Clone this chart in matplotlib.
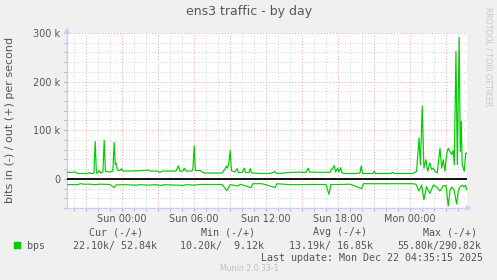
import numpy as np
import matplotlib.pyplot as plt
from matplotlib.patches import Rectangle

# hours relative to Sun 00:00, values in kbit/s
out_hours = [-4.61, -4.11, -3.94, -3.69, -2.86, -2.73, -2.61, -2.36, -2.25, -2.15,
             -2.03, -1.92, -1.78, -1.61, -1.50, -1.40, -1.19, -1.03, -0.78, -0.67,
             -0.58, -0.53, -0.40, -0.19, -0.05, 0.06, 0.64, 1.48, 2.14, 2.31,
             2.89, 3.14, 3.39, 3.98, 4.48, 4.67, 4.81, 5.06, 5.17, 5.31,
             5.81, 5.89, 6.00, 6.10, 6.48, 6.81, 7.73, 8.31, 8.56, 8.67,
             8.77, 8.89, 9.00, 9.10, 9.39, 9.58, 9.68, 9.98, 10.17, 10.27,
             10.56, 10.67, 10.77, 11.64, 12.31, 12.73, 12.89, 13.98, 14.81, 15.31,
             15.50, 15.60, 16.48, 17.31, 17.67, 17.78, 17.95, 18.06, 18.20, 18.31,
             18.56, 19.39, 19.81, 19.92, 20.02, 20.89, 21.00, 21.10, 22.39, 22.53,
             22.64, 24.23, 24.53, 24.73, 24.85, 25.00, 25.14, 25.31, 25.45, 25.64,
             25.78, 25.92, 26.06, 26.25, 26.48, 26.62, 26.75, 26.89, 27.03, 27.17,
             27.31, 27.45, 27.58, 27.67, 27.81, 27.92, 28.08, 28.17, 28.25, 28.33,
             28.42, 28.50, 28.62, 28.68]
out_kbps = [13.5, 13.5, 14.5, 11, 11, 13, 11, 11.5, 77, 12,
            12, 17, 12, 14, 79, 15, 15, 14, 16, 75,
            30, 33, 18, 17, 21, 16, 16, 16.5, 18, 16,
            16, 13.5, 16, 16, 16, 27, 16, 16, 22, 16,
            16, 20, 68, 17, 17, 12, 12, 12, 20, 26,
            22, 33, 58, 17, 14, 21, 13, 13, 22, 13,
            13, 21, 12, 11, 11, 15, 11, 13, 14, 13,
            22, 14, 13.5, 13.5, 27, 14, 22, 14, 23, 12,
            11, 11, 12, 27, 11, 11, 15.5, 11, 11, 13.5,
            11, 11, 15.5, 84, 29, 150, 22, 39, 15.5, 33,
            19, 22, 15.5, 12, 63, 22, 39, 15.5, 50, 63,
            56, 50, 58, 29, 262, 29, 290.82, 56, 118, 29,
            22, 15.5, 53, 52.84]

in_hours = [-4.61, -3.69, -3.47, -3.28, -2.69, -2.28, -1.86, -1.03, -0.67, -0.53,
            0.23, 1.20, 1.48, 2.14, 2.73, 3.23, 3.56, 5.14, 5.31, 6.00,
            6.48, 8.31, 8.73, 8.98, 9.67, 9.81, 10.73, 10.89, 11.64, 12.75,
            12.89, 13.98, 14.89, 15.64, 16.98, 17.23, 17.39, 18.14, 18.98, 19.95,
            20.10, 21.48, 24.14, 24.48, 24.73, 24.95, 25.14, 25.35, 25.64, 25.92,
            26.20, 26.48, 26.75, 26.98, 27.17, 27.31, 27.45, 27.64, 27.87, 28.00,
            28.14, 28.33, 28.48, 28.62, 28.68]
in_kbps = [12, 12, 9.7, 11, 11, 12, 11, 11.5, 18, 12.5,
           12, 13, 12, 13, 12, 13.5, 12, 13.5, 12, 13,
           11.6, 11.6, 24, 12, 14.7, 11, 18, 10, 10, 18,
           10, 12, 12, 11.6, 11.6, 32, 11.6, 11.6, 11, 20,
           10, 10, 10, 11, 25, 13, 43, 16, 30, 13,
           17, 25, 14, 14, 55.8, 25, 17, 22, 52, 25,
           17, 13, 17, 13, 22.1]

tick_hours = [0, 6, 12, 18, 24]
tick_labels = ["Sun 00:00", "Sun 06:00", "Sun 12:00", "Sun 18:00", "Mon 00:00"]
ytick_vals = [0, 100000, 200000, 300000]
ytick_labels = ["0", "100 k", "200 k", "300 k"]

columns = ["Cur", "Min", "Avg", "Max"]
in_stats = ["22.10k", "10.20k", "13.19k", "55.80k"]
out_stats = ["52.84k", "9.12k", "16.85k", "290.82k"]

W, H = 497, 280
txt = "#555555"
axis_col = "#c8d0f8"

fig = plt.figure(figsize=(W / 100, H / 100), dpi=100, facecolor="#f0f0f0")
ax = fig.add_axes([67 / W, 1 - 208 / H, 400 / W, 175 / H])
ax.set_facecolor("white")
ax.set_xlim(-4.6, 28.73)
ax.set_ylim(-60000, 300000)

# grid: gray every hour / 20k, red every 3 h / 100k
for h in range(-4, 29):
    c = "#f4a0a0" if h % 3 == 0 else "#d0d0d0"
    ax.axvline(h, color=c, lw=0.7, ls=(0, (1, 2)), zorder=1)
for v in range(-60000, 300001, 20000):
    c = "#f4a0a0" if v % 100000 == 0 else "#d0d0d0"
    ax.axhline(v, color=c, lw=0.7, ls=(0, (1, 2)), zorder=1)

ax.plot(out_hours, np.array(out_kbps) * 1000, color="#00cc00", lw=0.85, zorder=3)
ax.plot(in_hours, -np.array(in_kbps) * 1000, color="#00cc00", lw=0.85, zorder=3)
ax.axhline(0, color="black", lw=1.3, zorder=4)

for s in ["top", "right"]:
    ax.spines[s].set_visible(False)
for s in ["left", "bottom"]:
    ax.spines[s].set_color(axis_col)
    ax.spines[s].set_linewidth(1)

ax.annotate("", xy=(0, 1.05), xytext=(0, 0.99), xycoords="axes fraction",
            arrowprops=dict(arrowstyle="-|>", color=axis_col, lw=1, mutation_scale=8))
ax.annotate("", xy=(1.02, 0), xytext=(0.99, 0), xycoords="axes fraction",
            arrowprops=dict(arrowstyle="-|>", color=axis_col, lw=1, mutation_scale=8))

ax.set_xticks(tick_hours)
ax.set_xticklabels(tick_labels)
ax.set_xticks(range(-4, 29), minor=True)
ax.set_yticks(ytick_vals)
ax.set_yticklabels(ytick_labels)
ax.set_yticks(range(-60000, 300001, 20000), minor=True)
ax.tick_params(which="both", length=2, color="#aaaaaa", labelsize=7, labelcolor=txt)
ax.tick_params(axis="x", pad=2.5)
ax.tick_params(axis="y", pad=3)

fig.text(249 / W, 1 - 12 / H, "ens3 traffic - by day", ha="center", va="center",
         fontsize=9, color=txt)
fig.text(10.5 / W, 1 - 120 / H, "bits in (-) / out (+) per second", rotation=90,
         ha="center", va="center", fontsize=8, color=txt)
fig.text(488.3 / W, 1 - 56.7 / H, "RRDTOOL / TOBI OETIKER", rotation=270,
         ha="center", va="center", fontsize=5.6, color="#c8c8c8")

mono = "DejaVu Sans Mono"
fig.patches.append(Rectangle((14 / W, 1 - 248.3 / H), 6 / W, 6 / H,
                             transform=fig.transFigure, color="#00cc00"))
fig.text(26.7 / W, 1 - 246 / H, "bps", ha="left", va="center",
         fontsize=7.2, family=mono, color=txt)
head_x = [89.3, 201.3, 312.7, 423.3]
val_x = [72.7, 180, 289.3, 397.3]
for i in range(4):
    fig.text(head_x[i] / W, 1 - 232.3 / H, f"{columns[i]} (-/+)", ha="left",
             va="center", fontsize=7.2, family=mono, color=txt)
    fig.text(val_x[i] / W, 1 - 246 / H, f"{in_stats[i]}/{out_stats[i]:>7}", ha="left",
             va="center", fontsize=7.2, family=mono, color=txt)
fig.text(482.7 / W, 1 - 257.7 / H, "Last update: Mon Dec 22 04:35:15 2025",
         ha="right", va="center", fontsize=7.2, family=mono, color=txt)
fig.text(249 / W, 1 - 268.3 / H, "Munin 2.0.33-1", ha="center", va="center",
         fontsize=5.6, color="#c0c0c0")

fig.savefig("out.png", dpi=100, facecolor=fig.get_facecolor())
